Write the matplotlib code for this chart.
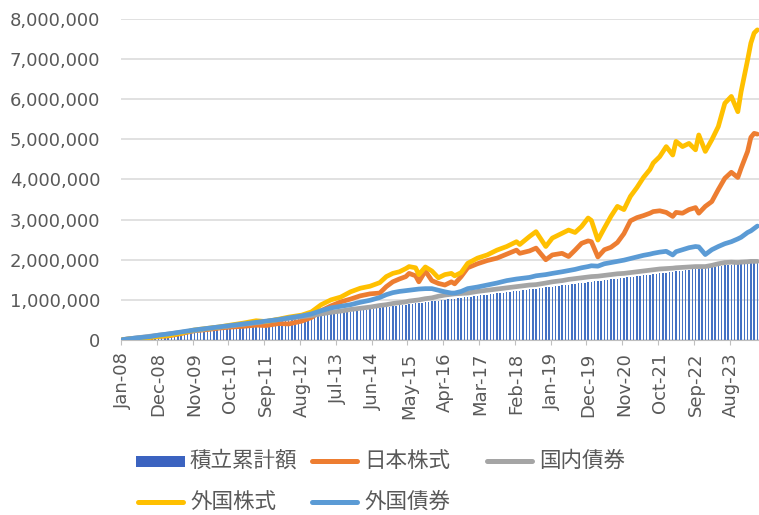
import matplotlib
matplotlib.use('Agg')
import matplotlib.pyplot as plt
from matplotlib.patches import Rectangle
from matplotlib.ticker import FuncFormatter
import numpy as np

plt.rcParams['font.family'] = ['DejaVu Sans', 'Noto Sans CJK JP']

# 積立累計額, 万円, one value per month from Jan-08 to Apr-24
invested = [
    1, 2, 3, 4, 5, 6, 7, 8, 9, 10, 11, 12,
    13, 14, 15, 16, 17, 18, 19, 20, 21, 22, 23, 24,
    25, 26, 27, 28, 29, 30, 31, 32, 33, 34, 35, 36,
    37, 38, 39, 40, 41, 42, 43, 44, 45, 46, 47, 48,
    49, 50, 51, 52, 53, 54, 55, 56, 57, 58, 59, 60,
    61, 62, 63, 64, 65, 66, 67, 68, 69, 70, 71, 72,
    73, 74, 75, 76, 77, 78, 79, 80, 81, 82, 83, 84,
    85, 86, 87, 88, 89, 90, 91, 92, 93, 94, 95, 96,
    97, 98, 99, 100, 101, 102, 103, 104, 105, 106, 107, 108,
    109, 110, 111, 112, 113, 114, 115, 116, 117, 118, 119, 120,
    121, 122, 123, 124, 125, 126, 127, 128, 129, 130, 131, 132,
    133, 134, 135, 136, 137, 138, 139, 140, 141, 142, 143, 144,
    145, 146, 147, 148, 149, 150, 151, 152, 153, 154, 155, 156,
    157, 158, 159, 160, 161, 162, 163, 164, 165, 166, 167, 168,
    169, 170, 171, 172, 173, 174, 175, 176, 177, 178, 179, 180,
    181, 182, 183, 184, 185, 186, 187, 188, 189, 190, 191, 192,
    193, 194, 195, 196,
]

line_month = [0, 4, 8, 11, 14, 18, 22, 26, 30, 33, 37, 41, 44, 48, 51, 55,
              58, 61, 64, 67, 70, 73, 76, 79, 81, 83, 85, 87, 88, 90, 91, 93,
              95, 97, 99, 101, 102, 104, 106, 109, 112, 115, 118, 121, 122,
              125, 127, 130, 132, 135, 137, 139, 141, 143, 144, 146, 148, 150,
              152, 154, 156, 158, 160, 162, 163, 165, 167, 169, 170, 172, 174,
              176, 177, 179, 181, 183, 185, 187, 189, 190, 192, 193, 194, 195]

# 万円
fx_stock = [1, 4, 6, 9, 11, 17, 25, 29, 33, 37, 42, 48, 46, 52, 57, 62,
            70, 88, 100, 107, 120, 129, 134, 143, 158, 166, 170, 178, 183, 180, 163, 182,
            172, 155, 163, 166, 160, 168, 191, 204, 212, 224, 233, 245, 238,
            258, 270, 233, 254, 266, 274, 268, 283, 304, 298, 249, 279, 308,
            333, 325, 358, 380, 405, 425, 441, 457, 482, 461, 495, 482, 490,
            474, 511, 470, 499, 532, 590, 607, 569, 619, 698, 740, 765, 773]
jp_stock = [1, 4, 6, 9, 10, 16, 23, 26, 30, 32, 34, 37, 36, 41, 40, 47,
            56, 73, 85, 95, 102, 110, 115, 117, 133, 145, 152, 158, 166, 160, 145, 172,
            148, 141, 137, 145, 140, 158, 180, 190, 198, 204, 214, 224, 216,
            222, 229, 200, 212, 216, 208, 224, 241, 247, 245, 207, 225, 231,
            243, 265, 297, 305, 310, 316, 320, 322, 318, 308, 318, 316, 325,
            330, 316, 333, 345, 375, 403, 418, 405, 428, 470, 505, 515, 513]
jp_bond = [1, 5, 9, 12, 15, 19, 23, 28, 32, 35, 39, 43, 46, 51, 54, 58,
           61, 65, 69, 72, 76, 79, 82, 86, 88, 91, 93, 95, 97, 99, 100, 103,
           105, 109, 112, 114, 115, 116, 117, 121, 124, 127, 130, 133, 134,
           137, 138, 142, 145, 148, 151, 153, 155, 157, 158, 159, 161, 163,
           165, 166, 168, 170, 172, 174, 175, 177, 178, 179, 180, 181, 182,
           183, 183, 183, 186, 190, 193, 194, 193, 194, 195, 196, 196, 196]
fx_bond = [1, 5, 8, 12, 15, 20, 25, 29, 33, 36, 40, 44, 47, 51, 55, 60,
           65, 73, 80, 84, 88, 94, 99, 106, 113, 118, 121, 123, 124, 126, 127, 128,
           128, 124, 120, 117, 117, 121, 128, 132, 137, 142, 148, 152, 153,
           156, 160, 163, 166, 170, 173, 176, 180, 183, 185, 184, 190, 193,
           196, 199, 203, 207, 211, 214, 216, 219, 221, 212, 220, 225, 230,
           233, 232, 213, 225, 233, 240, 245, 252, 256, 268, 272, 278, 284]

tick_labels = ['Jan-08', 'Dec-08', 'Nov-09', 'Oct-10', 'Sep-11', 'Aug-12',
               'Jul-13', 'Jun-14', 'May-15', 'Apr-16', 'Mar-17', 'Feb-18',
               'Jan-19', 'Dec-19', 'Nov-20', 'Oct-21', 'Sep-22', 'Aug-23']
series_names = ['積立累計額', '日本株式', '国内債券', '外国株式', '外国債券']

MAN = 10000
TICK_STEP = 11
BAR_C = '#4472C4'
LEG_BAR_C = '#3B63C0'
ORANGE = '#ED7D31'
GRAY = '#A5A5A5'
YELLOW = '#FFC000'
BLUE = '#5B9BD5'
TXT = '#595959'

W, H = 759, 515
fig = plt.figure(figsize=(W / 100, H / 100), dpi=100)
ax = fig.add_axes([121 / W, (H - 340) / H, 1 - 121 / W, 321 / H])

months = np.arange(len(invested))
ax.bar(months, np.array(invested) * MAN, width=0.45, color=BAR_C,
       linewidth=0, zorder=2)

for vals, c in [(jp_stock, ORANGE), (jp_bond, GRAY), (fx_stock, YELLOW),
                (fx_bond, BLUE)]:
    ax.plot(line_month, np.array(vals) * MAN, color=c, lw=3.4,
            solid_joinstyle='round', solid_capstyle='round', zorder=3)

ax.set_xlim(-0.5, len(invested) - 0.5)
ax.set_ylim(0, 8000000)

ax.set_yticks(np.arange(0, 8000001, 1000000))
ax.yaxis.set_major_formatter(FuncFormatter(lambda v, p: '{:,.0f}'.format(v)))
ax.tick_params(axis='y', length=0, pad=15, labelsize=13, labelcolor=TXT)
ax.grid(axis='y', color='#D9D9D9', lw=1.1)
ax.set_axisbelow(True)

# tick marks sit between categories, labels on the category
ax.set_xticks([TICK_STEP * k - 0.5 for k in range(len(tick_labels))])
ax.set_xticklabels([])
ax.set_xticks([TICK_STEP * k for k in range(len(tick_labels))], minor=True)
ax.set_xticklabels(tick_labels, minor=True, rotation=90)
ax.tick_params(axis='x', which='major', length=3.6, color='#BFBFBF')
ax.tick_params(axis='x', which='minor', length=0, pad=9, labelsize=13,
               labelcolor=TXT)

for s in ['top', 'right', 'left']:
    ax.spines[s].set_visible(False)
ax.spines['bottom'].set_color('#BFBFBF')

# legend, laid out like the Excel one (3 fixed-width columns)
lg = fig.add_axes([0, 0, 1, 1])
lg.set_xlim(0, W)
lg.set_ylim(H, 0)
lg.axis('off')
col_x = [136, 310, 485]
row_y = [461, 502]
entries = [(series_names[0], LEG_BAR_C, 0, 0), (series_names[1], ORANGE, 1, 0),
           (series_names[2], GRAY, 2, 0), (series_names[3], YELLOW, 0, 1),
           (series_names[4], BLUE, 1, 1)]
for i, (name, c, col, row) in enumerate(entries):
    x, y = col_x[col], row_y[row]
    if i == 0:
        lg.add_patch(Rectangle((x, y - 5.5), 49, 11, color=c, lw=0))
    else:
        lg.plot([x + 2, x + 47], [y, y], color=c, lw=3.6,
                solid_capstyle='round')
    lg.text(x + 54, y, name, va='center', ha='left', fontsize=15.5, color=TXT,
            family=['Noto Sans CJK JP', 'DejaVu Sans'])

fig.savefig('out.png', dpi=100)
